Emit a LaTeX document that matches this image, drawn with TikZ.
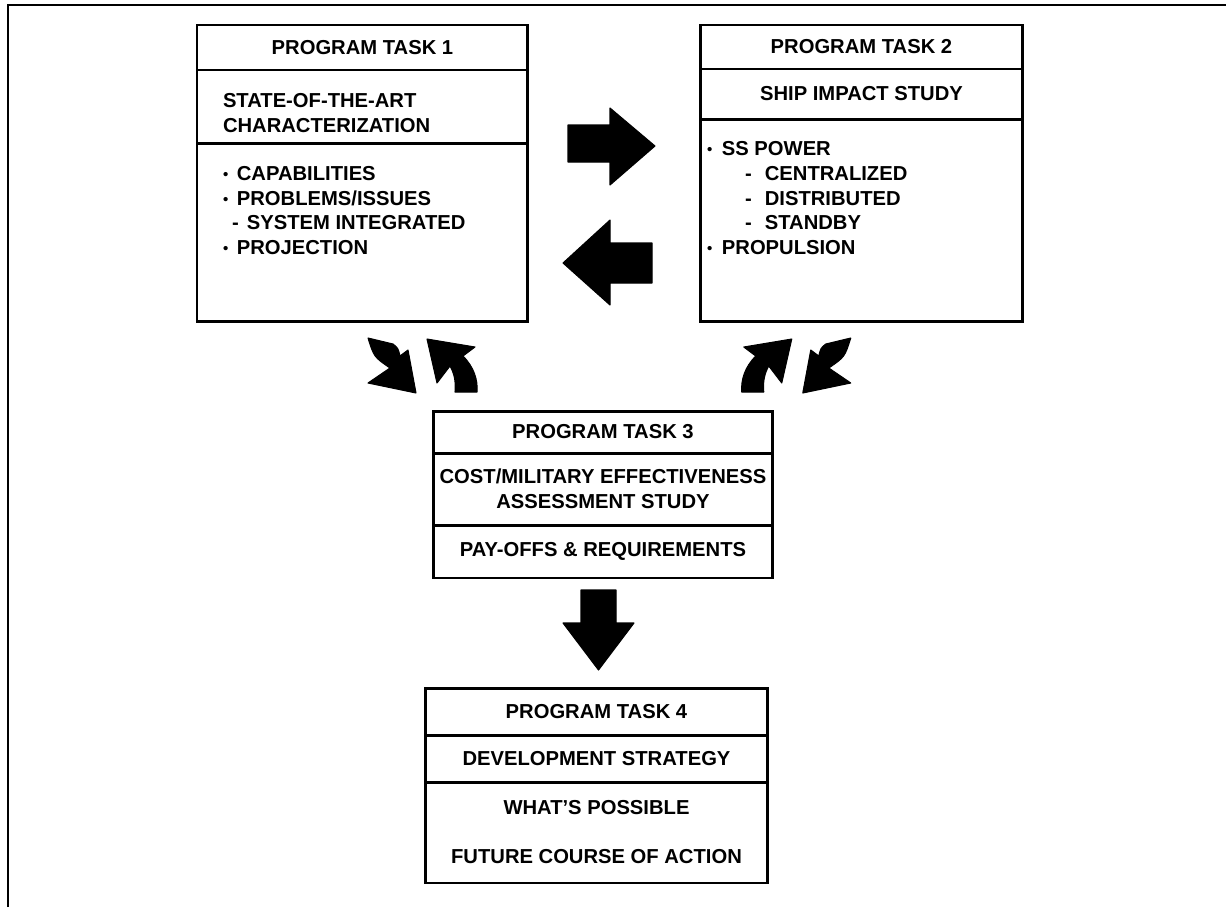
\documentclass[tikz,border=0pt]{standalone}
\usepackage{fontspec}
\setmainfont{Liberation Sans}
\newcommand{\smbul}{\raisebox{0.5pt}{\fontsize{8.5}{8.5}\selectfont •}}
\begin{document}
\begin{tikzpicture}[x=0.02cm,y=-0.02cm,
  every node/.style={font=\fontsize{11.5}{14.2}\selectfont\bfseries, inner sep=0pt, outer sep=0pt},
  cell/.style={draw, line width=1.7pt, anchor=north west, align=center},
  item/.style={anchor=base west},
  blk/.style={fill=black, draw=black, line width=0.6pt, line join=round},
  frame/.style={line width=1.5pt}]
\useasboundingbox (0,0) rectangle (1226,907);
% outer frame
\draw[frame] (8,907) -- (8,5) -- (1226,5);

% ---------- Task 1 ----------
\node[cell, minimum width=6.62cm, minimum height=0.90cm] (t1a) at (197,25) {PROGRAM TASK 1};
\node[cell, minimum width=6.62cm, minimum height=1.46cm] (t1b) at (197,70) {};
\node[cell, minimum width=6.62cm, minimum height=3.58cm] (t1c) at (197,143) {};
\node[item] (t1b1) at (223,107) {STATE-OF-THE-ART};
\node[item] (t1b2) at (223,132) {CHARACTERIZATION};
\node[item] (t1c1) at (223,180) {\makebox[7.9pt][l]{\smbul}CAPABILITIES};
\node[item] (t1c2) at (223,205) {\makebox[7.9pt][l]{\smbul}PROBLEMS/ISSUES};
\node[item] (t1c3) at (232,229) {\makebox[8.5pt][l]{-}SYSTEM INTEGRATED};
\node[item] (t1c4) at (223,254) {\makebox[7.9pt][l]{\smbul}PROJECTION};

% ---------- Task 2 ----------
\node[cell, minimum width=6.46cm, minimum height=0.88cm] (t2a) at (700,25) {PROGRAM TASK 2};
\node[cell, minimum width=6.46cm, minimum height=1.00cm] (t2b) at (700,69) {SHIP IMPACT STUDY};
\node[cell, minimum width=6.46cm, minimum height=4.06cm] (t2c) at (700,119) {};
\node[item] (t2c1) at (707,155) {\makebox[8.5pt][l]{\smbul}SS POWER};
\node[item] (t2c2) at (745,180) {\makebox[11.3pt][l]{-}CENTRALIZED};
\node[item] (t2c3) at (745,205) {\makebox[11.3pt][l]{-}DISTRIBUTED};
\node[item] (t2c4) at (745,229) {\makebox[11.3pt][l]{-}STANDBY};
\node[item] (t2c5) at (707,254) {\makebox[8.5pt][l]{\smbul}PROPULSION};

% ---------- Task 3 ----------
\node[cell, minimum width=6.80cm, minimum height=0.84cm] (t3a) at (433,411) {PROGRAM TASK 3};
\node[cell, minimum width=6.80cm, minimum height=1.44cm] (t3b) at (433,453) {COST/MILITARY EFFECTIVENESS\\ASSESSMENT STUDY};
\node[cell, minimum width=6.80cm, minimum height=1.06cm] (t3c) at (433,525) {PAY-OFFS \& REQUIREMENTS};

% ---------- Task 4 ----------
\node[cell, minimum width=6.86cm, minimum height=0.94cm] (t4a) at (425,688) {PROGRAM TASK 4};
\node[cell, minimum width=6.86cm, minimum height=0.94cm] (t4b) at (425,735) {DEVELOPMENT STRATEGY};
\node[cell, minimum width=6.86cm, minimum height=2.02cm] (t4c) at (425,782) {};
\node (t4c1) at (596.5,808) {WHAT'S POSSIBLE};
\node (t4c2) at (596.5,857) {FUTURE COURSE OF ACTION};

% ---------- block arrows ----------
% task 1 -> task 2
\filldraw[blk] (568,125) -- (610,125) -- (610,108) -- (655,146) -- (610,185) -- (610,162) -- (568,162) -- cycle;
% task 2 -> task 1
\filldraw[blk] (652,243) -- (610,243) -- (610,220) -- (563,263) -- (610,305) -- (610,283) -- (652,283) -- cycle;
% task 3 -> task 4
\filldraw[blk] (581,590) -- (616,590) -- (616,623) -- (634,623) -- (598.5,670) -- (563,623) -- (581,623) -- cycle;

% curved arrows near task 1
\filldraw[blk] (368,338) -- (393,344) .. controls (398,348) .. (400,356) -- (408,350) -- (416,393)
   -- (368,383) -- (390,368) .. controls (374,357) .. (368,338) -- cycle;
\filldraw[blk] (427,339) -- (475,347) -- (463,356) .. controls (474,367) and (478,380) .. (477,392)
   -- (455,392) .. controls (456,381) and (454,373) .. (450,366) -- (437,383) -- cycle;
% mirrored near task 2
\begin{scope}[xshift=24.38cm, xscale=-1]
\filldraw[blk] (368,338) -- (393,344) .. controls (398,348) .. (400,356) -- (408,350) -- (416,393)
   -- (368,383) -- (390,368) .. controls (374,357) .. (368,338) -- cycle;
\filldraw[blk] (427,339) -- (475,347) -- (463,356) .. controls (474,367) and (478,380) .. (477,392)
   -- (455,392) .. controls (456,381) and (454,373) .. (450,366) -- (437,383) -- cycle;
\end{scope}
\end{tikzpicture}
\end{document}
